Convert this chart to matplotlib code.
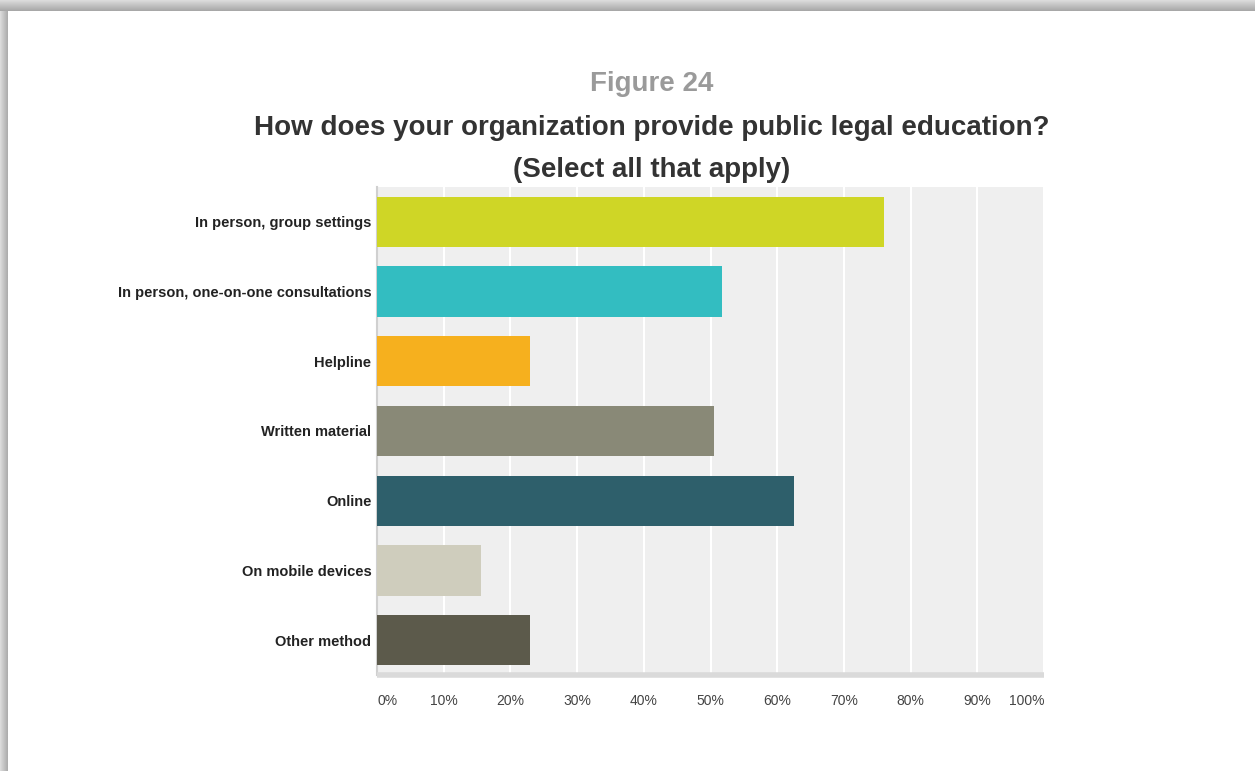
import numpy as np
import matplotlib
matplotlib.use("Agg")
import matplotlib.pyplot as plt

# Survey responses: share of organizations using each method
categories = [
    "In person, group settings",
    "In person, one-on-one consultations",
    "Helpline",
    "Written material",
    "Online",
    "On mobile devices",
    "Other method",
]
percentages = [76.0, 51.7, 22.9, 50.5, 62.5, 15.6, 22.9]
bar_colors = ["#cfd626", "#33bdc1", "#f6b01e", "#898977",
              "#2e5f6b", "#cfcdbd", "#5c5a4b"]
x_ticks = [0, 10, 20, 30, 40, 50, 60, 70, 80, 90, 100]
x_tick_labels = [f"{t}%" for t in x_ticks]

plt.rcParams["font.family"] = ["Liberation Sans", "DejaVu Sans"]

W, H = 1255, 771
fig = plt.figure(figsize=(W / 100, H / 100), dpi=100)
fig.patch.set_facecolor("white")

# Drop shadow along the top and left edges of the card
shadow_top = fig.add_axes([0, 1 - 11 / H, 1, 11 / H])
grad_v = np.linspace(0.86, 0.66, 11).reshape(-1, 1)
shadow_top.imshow(np.repeat(grad_v, 10, axis=1), cmap="gray", vmin=0, vmax=1,
                  aspect="auto", interpolation="bilinear")
shadow_top.axis("off")
shadow_left = fig.add_axes([0, 0, 8 / W, 1 - 11 / H])
grad_h = np.linspace(0.86, 0.68, 8).reshape(1, -1)
shadow_left.imshow(np.repeat(grad_h, 10, axis=0), cmap="gray", vmin=0, vmax=1,
                   aspect="auto", interpolation="bilinear")
shadow_left.axis("off")

# Plot area
left, right, top, bottom = 377, 1044, 187, 675
ax = fig.add_axes([left / W, 1 - bottom / H, (right - left) / W, (bottom - top) / H])
ax.set_facecolor("#efefef")

y = np.arange(len(categories))
ax.barh(y, percentages, height=0.72, color=bar_colors, zorder=3)
ax.set_xlim(0, 100)
ax.set_ylim(len(categories) - 0.5, -0.5)

ax.set_xticks(x_ticks)
ax.set_xticklabels(x_tick_labels, fontsize=10, color="#444444")
xlabels = ax.get_xticklabels()
xlabels[0].set_horizontalalignment("left")
xlabels[-1].set_horizontalalignment("right")
ax.set_yticks(y)
ax.set_yticklabels(categories, fontsize=10.5, fontweight="bold", color="#222222")
ax.tick_params(axis="both", length=0)
ax.tick_params(axis="x", pad=14)
ax.tick_params(axis="y", pad=4)

ax.grid(axis="x", color="white", linewidth=1.5, zorder=1)
ax.set_axisbelow(True)

for s in ["top", "right"]:
    ax.spines[s].set_visible(False)
ax.spines["left"].set_color("#d0d0d0")
ax.spines["left"].set_linewidth(1.5)
ax.spines["bottom"].set_color("#dadada")
ax.spines["bottom"].set_linewidth(4)
ax.spines["bottom"].set_capstyle("butt")

# Titles
fig.text(652 / W, 1 - 84 / H, "Figure 24", ha="center", va="center",
         fontsize=20, fontweight="bold", color="#9a9a9a")
fig.text(652 / W, 1 - 128 / H, "How does your organization provide public legal education?",
         ha="center", va="center", fontsize=20, fontweight="bold", color="#333333")
fig.text(652 / W, 1 - 170 / H, "(Select all that apply)", ha="center", va="center",
         fontsize=20, fontweight="bold", color="#333333")

fig.savefig("out.png", dpi=100, facecolor="white")
